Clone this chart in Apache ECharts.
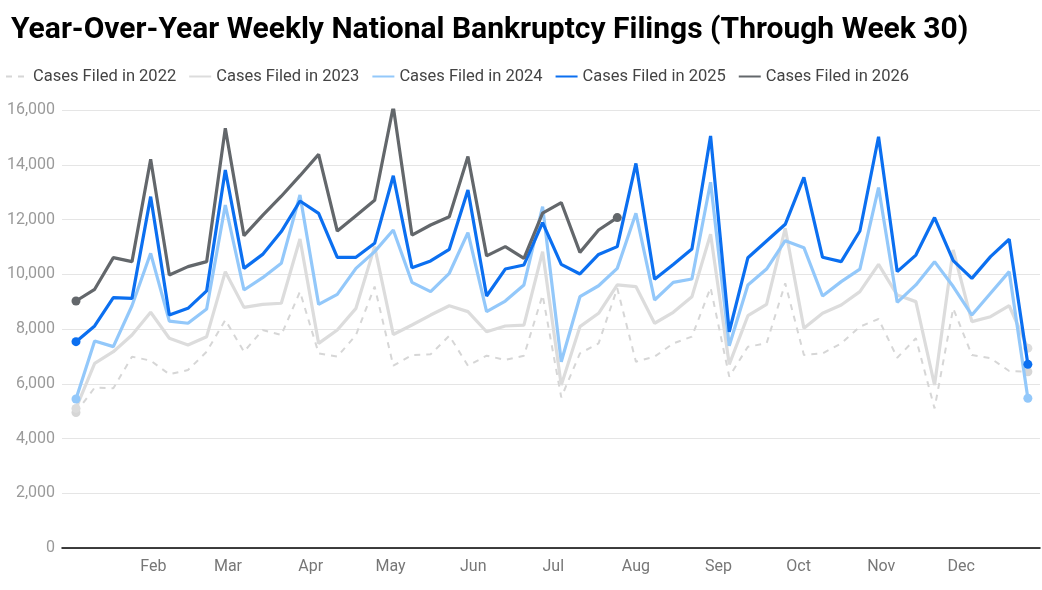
<!DOCTYPE html>
<html>
<head>
<meta charset="utf-8">
<script src="https://cdn.jsdelivr.net/npm/echarts@6/dist/echarts.min.js"></script>
<style>
html,body{margin:0;padding:0;background:#fff;}
#chart{width:1042px;height:590px;}
</style>
</head>
<body>
<div id="chart"></div>
<script>
const titleText = 'Year-Over-Year Weekly National Bankruptcy Filings (Through Week 30)';
const seriesNames = ['Cases Filed in 2022','Cases Filed in 2023','Cases Filed in 2024','Cases Filed in 2025','Cases Filed in 2026'];
const monthLabels = ['Feb','Mar','Apr','May','Jun','Jul','Aug','Sep','Oct','Nov','Dec'];
const monthStartDayOfYear = [31,59,90,120,151,181,212,243,273,304,334];
const firstWeekDayOfYear = 2; // first weekly point: Jan 3
const yTicks = [0,2000,4000,6000,8000,10000,12000,14000,16000];

const cases2022 = [4950,5860,5835,6990,6845,6345,6500,7170,8330,7170,7965,7780,9365,7110,6990,7780,9550,6660,7050,7075,7755,6660,7025,6870,7025,9240,5500,7110,7475,9485,6805,6990,7475,7720,9510,6260,7355,7475,9670,7050,7110,7475,8085,8365,6950,7660,5100,8755,7050,6930,6465,6440];
const cases2023 = [5100,6745,7170,7780,8610,7660,7415,7720,10095,8790,8900,8940,11290,7475,7965,8755,11010,7800,8145,8510,8850,8635,7900,8110,8145,10825,5950,8085,8575,9610,9550,8210,8610,9180,11460,6710,8485,8900,11680,8025,8575,8875,9365,10360,9240,9000,5955,10885,8270,8450,8850,7300];
const cases2024 = [5443,7560,7355,8850,10765,8290,8210,8730,12530,9425,9875,10400,12895,8900,9265,10215,10825,11615,9705,9365,10035,11520,8635,9020,9610,12470,6805,9180,9580,10215,12225,9060,9705,9825,13360,7390,9610,10190,11225,10970,9205,9730,10190,13165,8975,9610,10460,9550,8510,9305,10095,5470];
const cases2025 = [7537,8110,9145,9120,12835,8512,8755,9390,13810,10215,10725,11560,12675,12225,10620,10620,11130,13600,10240,10485,10910,13080,9205,10190,10340,11885,10360,10010,10725,11010,14050,9815,10360,10920,15050,7900,10605,11215,11825,13540,10620,10460,11580,15025,10095,10700,12070,10497,9850,10645,11280,6710];
const cases2026 = [9023,9450,10605,10460,14200,9973,10280,10460,15330,11410,12150,12850,13600,14380,11580,12140,12700,16120,11430,11800,12100,14300,10670,11010,10580,12230,12620,10800,11615,12070];

const allValues = [cases2022,cases2023,cases2024,cases2025,cases2026];
const colors = ['#d6d6d6','#dcdcdc','#93c8fa','#0b6ff0','#63676b'];
const widths = [2,3.2,3.2,3.2,3.2];
const dashed = [true,false,false,false,false];

const monthPositions = monthStartDayOfYear.map(d => (d - firstWeekDayOfYear) / 7);
const maxWeek = Math.max(...allValues.map(a => a.length)) - 1;

const chart = echarts.init(document.getElementById('chart'));
const series = allValues.map((vals, k) => {
  const last = vals.length - 1;
  return {
    name: seriesNames[k],
    type: 'line',
    data: vals.map((v, i) => [i, v]),
    showAllSymbol: true,
    symbol: 'circle',
    symbolSize: (v, p) => (p.dataIndex === 0 || p.dataIndex === last) ? 9 : 0,
    lineStyle: {color: colors[k], width: widths[k], type: dashed[k] ? [6,6] : 'solid'},
    itemStyle: {color: colors[k]},
    emphasis: {disabled: true},
    z: 2 + k,
    animation: false
  };
});

chart.setOption({
  animation: false,
  backgroundColor: '#fff',
  title: {
    text: titleText,
    left: 6, top: 10,
    textStyle: {fontFamily: 'Roboto', fontSize: 30, fontWeight: 'bold', color: '#000'}
  },
  legend: {
    left: 0, top: 63,
    itemWidth: 22, itemHeight: 14, itemGap: 12,
    itemStyle: {opacity: 0},
    textStyle: {fontFamily: 'Roboto', fontSize: 16.5, color: '#444'},
    data: seriesNames
  },
  grid: {left: 62, right: 2, top: 110, bottom: 42, containLabel: false},
  xAxis: {
    type: 'value', min: -0.75, max: maxWeek + 0.65,
    axisLine: {show: true, onZero: false, lineStyle: {color: '#000', width: 1.5}},
    axisTick: {show: false},
    splitLine: {show: false},
    axisLabel: {
      customValues: monthPositions,
      formatter: (val) => {
        let best = 0, bd = 1e9;
        monthPositions.forEach((p, i) => { const d = Math.abs(p - val); if (d < bd) { bd = d; best = i; } });
        return monthLabels[best];
      },
      fontFamily: 'Roboto', fontSize: 16, color: '#777', margin: 11
    }
  },
  yAxis: {
    type: 'value', min: yTicks[0], max: yTicks[yTicks.length - 1], interval: yTicks[1] - yTicks[0],
    axisLine: {show: false}, axisTick: {show: false},
    splitLine: {lineStyle: {color: '#e5e5e5', width: 1}},
    axisLabel: {
      formatter: (v) => v.toLocaleString('en-US'),
      fontFamily: 'Roboto', fontSize: 16, color: '#9a9a9a', margin: 7
    }
  },
  series: series
});
</script>
</body>
</html>
